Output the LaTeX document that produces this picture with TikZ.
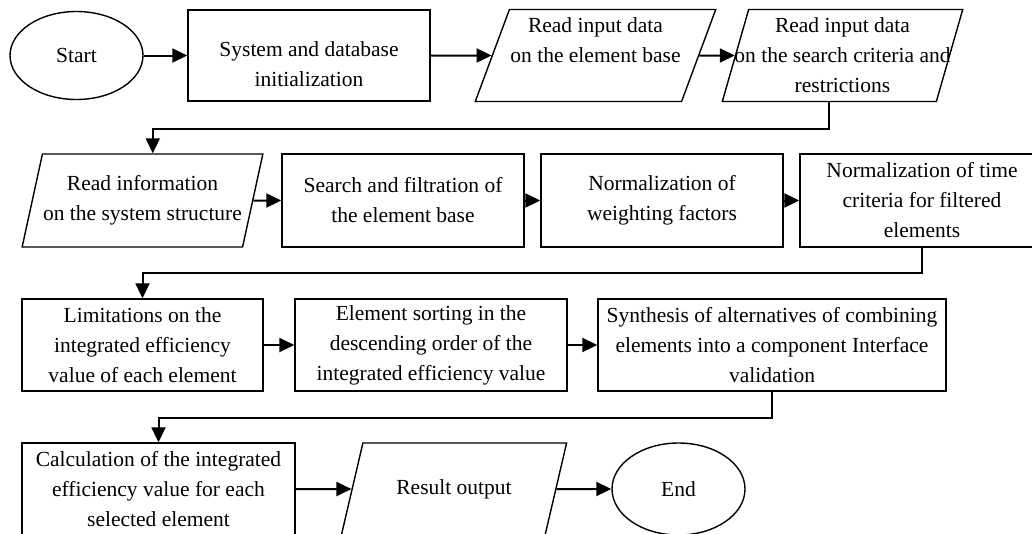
\documentclass[tikz,border=0pt]{standalone}
\usepackage{fontspec}
\setmainfont{Liberation Serif}
\usetikzlibrary{arrows.meta,shapes.geometric}

\begin{document}
\begin{tikzpicture}[x=1pt,y=-1pt,->,>={Triangle[length=15pt,width=14pt]},line width=2pt,
    base/.style={draw,line width=1.4pt,font=\fontsize{21.5}{30}\selectfont,align=center},
    proc/.style={base,rectangle,minimum height=92pt,inner sep=2pt},
    io/.style={base,trapezium,trapezium left angle=76,trapezium right angle=104,
      trapezium stretches=true,minimum height=92pt,inner xsep=-30pt},
    term/.style={base,ellipse,minimum width=133pt,minimum height=88pt,inner sep=0pt}]
  \useasboundingbox (0,0) rectangle (1032,533);
  \clip (0,0) rectangle (1032,533);

  % row 1
  \node[term] (start) at (76.5,55.5) {Start};
  \node[proc,minimum width=242pt,minimum height=91pt,text height=62pt] (init) at (309,55.5) {System and database\\initialization};
  \node[io,minimum width=241pt,trapezium left angle=75,trapezium right angle=105] (rd1) at (595.5,55.5) {Read input data\\on the element base\\\mbox{}};
  \node[io,minimum width=241pt,trapezium left angle=75,trapezium right angle=105] (rd2) at (842.5,55.5) {Read input data\\on the search criteria and\\restrictions};

  % row 2
  \node[io,minimum width=241pt,minimum height=93pt] (rd3) at (142.5,200.5) {Read information\\on the system structure};
  \node[proc,minimum width=242pt,minimum height=93pt] (search) at (403,200.5) {Search and filtration of\\the element base};
  \node[proc,minimum width=242pt,minimum height=93pt] (wnorm) at (662,200.5) {Normalization of\\weighting factors};
  \node[proc,minimum width=244pt,minimum height=93pt] (tnorm) at (922,200.5) {Normalization of time\\criteria for filtered\\elements};

  % row 3
  \node[proc,minimum width=241pt] (lim) at (142.5,345) {Limitations on the\\integrated efficiency\\value of each element};
  \node[proc,minimum width=272pt] (sort) at (431,345) {Element sorting in the\\descending order of the\\integrated efficiency value};
  \node[proc,minimum width=348pt] (synth) at (772,345) {Synthesis of alternatives of combining\\elements into a component Interface\\validation};

  % row 4
  \node[proc,minimum width=273pt] (calc) at (158.5,489) {Calculation of the integrated\\efficiency value for each\\selected element};
  \node[io,minimum width=226pt] (res) at (454,489) {Result output};
  \node[term,minimum height=92pt] (stop) at (678.5,489) {End};

  \path (start) edge (init)
        (init) edge (rd1)
        (rd1) edge (rd2)
        (rd3) edge (search)
        (search) edge (wnorm)
        (wnorm) edge (tnorm)
        (lim) edge (sort)
        (sort) edge (synth)
        (calc) edge (res)
        (res) edge (stop);

  % row changes
  \draw (rd2.bottom side) -- ++(0,27) -| (rd3.top side);
  \draw (tnorm.south) -- ++(0,25) -| (lim.north);
  \draw (synth.south) -- ++(0,26) -| (calc.north);
\end{tikzpicture}
\end{document}
